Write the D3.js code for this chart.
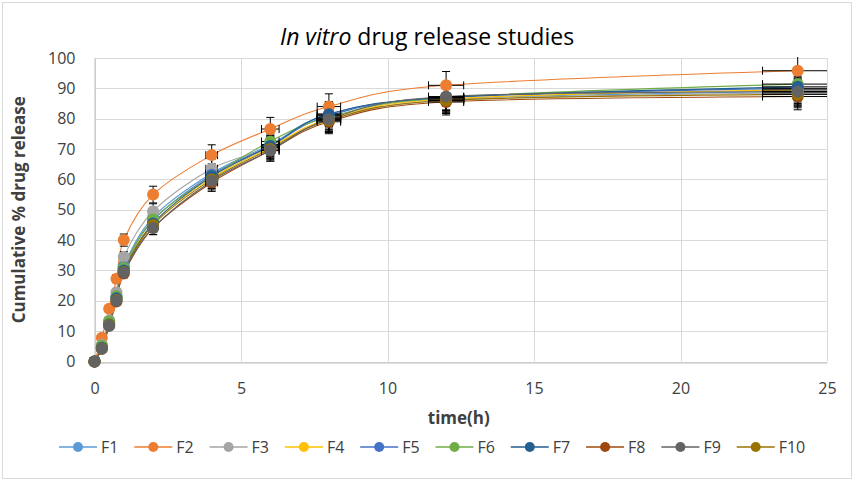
<!DOCTYPE html>
<html>
<head>
<meta charset="utf-8">
<script src="https://cdn.jsdelivr.net/npm/d3@7"></script>
<style>
	body { margin: 0; background: #fff; }
	text { font-family: "Open Sans", "Noto Sans", sans-serif; fill: #404040; }
</style>
</head>
<body>
<div id="chart"></div>
<script>

// sampling times (h)
var times = [0, 0.25, 0.5, 0.75, 1, 2, 4, 6, 8, 12, 24];

// cumulative % drug release
var F1  = [0, 5.0, 13.0, 21.5, 31.5, 47.5, 62.0, 71.5, 81.5, 86.5, 89.0];
var F2  = [0, 7.8, 17.4, 27.3, 40.0, 55.0, 68.0, 76.6, 84.0, 91.0, 95.8];
var F3  = [0, 5.5, 13.5, 22.8, 34.5, 49.5, 63.5, 70.5, 79.5, 86.0, 88.5];
var F4  = [0, 4.8, 12.5, 21.0, 30.5, 45.5, 60.5, 70.5, 80.0, 86.5, 89.5];
var F5  = [0, 4.6, 12.5, 21.0, 31.0, 46.5, 61.5, 71.0, 81.0, 87.0, 90.0];
var F6  = [0, 5.2, 13.2, 21.5, 30.8, 46.8, 61.0, 72.5, 80.5, 87.0, 91.4];
var F7  = [0, 4.5, 12.2, 20.8, 30.0, 45.5, 61.0, 71.0, 81.5, 87.0, 90.5];
var F8  = [0, 4.2, 11.8, 19.8, 29.0, 44.0, 59.0, 69.5, 79.0, 85.5, 87.3];
var F9  = [0, 4.2, 11.8, 20.0, 29.3, 44.0, 59.5, 69.5, 79.8, 87.3, 88.9];
var F10 = [0, 4.3, 12.0, 20.3, 29.5, 45.0, 60.0, 70.0, 79.5, 86.0, 88.0];

var seriesNames = ["F1", "F2", "F3", "F4", "F5", "F6", "F7", "F8", "F9", "F10"];
var seriesValues = [F1, F2, F3, F4, F5, F6, F7, F8, F9, F10];
var seriesColors = ["#5B9BD5", "#ED7D31", "#A5A5A5", "#FFC000", "#4472C4",
	"#70AD47", "#255E91", "#9E480E", "#636363", "#997300"];

var xTicks = [0, 5, 10, 15, 20, 25];
var yTicks = [0, 10, 20, 30, 40, 50, 60, 70, 80, 90, 100];
var errPct = 0.05; // 5% error bars on both axes

var width = 854, height = 481;
var plot = {left: 94.5, right: 827, top: 58, bottom: 361.5};

var x = d3.scaleLinear().domain([0, 25]).range([plot.left, plot.right]);
var y = d3.scaleLinear().domain([0, 100]).range([plot.bottom, plot.top]);

var data = seriesNames.map((name, i) => ({
	name: name,
	color: seriesColors[i],
	points: times.map((t, j) => ({t: t, v: seriesValues[i][j]}))
}));

// F9 ends up on top of the cluster in the picture
var drawOrder = data.filter(d => d.name != "F9").concat(data.filter(d => d.name == "F9"));

var svg = d3.select("#chart").append("svg")
	.attr("width", width)
	.attr("height", height);

svg.append("rect")
	.attr("x", 2.5).attr("y", 2.5)
	.attr("width", width - 5).attr("height", height - 5)
	.attr("fill", "#fff")
	.attr("stroke", "#D9D9D9");

svg.append("clipPath").attr("id", "plotClip")
	.append("rect")
	.attr("x", plot.left).attr("y", plot.top - 1)
	.attr("width", plot.right - plot.left).attr("height", plot.bottom - plot.top + 1);

// grid
var gGrid = svg.append("g").attr("stroke", "#D9D9D9").attr("stroke-width", 1);
gGrid.selectAll(".gy")
	.data(yTicks)
	.join("line")
		.attr("class", "gy")
		.attr("x1", plot.left).attr("x2", plot.right)
		.attr("y1", d => Math.round(y(d)) + 0.5)
		.attr("y2", d => Math.round(y(d)) + 0.5);
gGrid.selectAll(".gx")
	.data(xTicks)
	.join("line")
		.attr("class", "gx")
		.attr("y1", plot.top).attr("y2", plot.bottom)
		.attr("x1", d => Math.round(x(d)) + 0.5)
		.attr("x2", d => Math.round(x(d)) + 0.5);

// axes
var yAxis = svg.append("g")
	.attr("transform", `translate(${plot.left},0)`)
	.call(d3.axisLeft(y).tickValues(yTicks).tickSize(0).tickPadding(19));
yAxis.select(".domain").attr("stroke", "#BFBFBF");
yAxis.selectAll("text").style("font-size", "16px").attr("fill", "#404040");

var xAxis = svg.append("g")
	.attr("transform", `translate(0,${Math.round(y(0)) + 0.5})`)
	.call(d3.axisBottom(x).tickValues(xTicks).tickSize(0).tickPadding(20));
xAxis.select(".domain").attr("stroke", "#BFBFBF");
xAxis.selectAll("text").style("font-size", "16px").attr("fill", "#404040");

// series
var line = d3.line()
	.x(d => x(d.t))
	.y(d => y(d.v))
	.curve(d3.curveCatmullRom.alpha(0));

var gSeries = svg.append("g").attr("clip-path", "url(#plotClip)");

gSeries.selectAll(".line")
	.data(drawOrder)
	.join("path")
		.attr("class", "line")
		.attr("fill", "none")
		.attr("stroke", d => d.color)
		.attr("stroke-width", 1.1)
		.attr("d", d => line(d.points));

var cap = 4;
var gErr = gSeries.append("g").attr("stroke", "#000").attr("stroke-width", 1);
drawOrder.forEach(s => {
	var pts = s.points.filter(p => p.t > 0);
	var g = gErr.append("g");
	pts.forEach(p => {
		var cx = x(p.t), cy = y(p.v);
		var x0 = x(p.t * (1 - errPct)), x1 = x(p.t * (1 + errPct));
		var y0 = y(p.v * (1 - errPct)), y1 = y(p.v * (1 + errPct));
		g.append("line").attr("x1", cx).attr("x2", cx).attr("y1", y0).attr("y2", y1);
		g.append("line").attr("x1", cx - cap).attr("x2", cx + cap).attr("y1", y0).attr("y2", y0);
		g.append("line").attr("x1", cx - cap).attr("x2", cx + cap).attr("y1", y1).attr("y2", y1);
		g.append("line").attr("x1", x0).attr("x2", x1).attr("y1", cy).attr("y2", cy);
		g.append("line").attr("x1", x0).attr("x2", x0).attr("y1", cy - cap).attr("y2", cy + cap);
		g.append("line").attr("x1", x1).attr("x2", x1).attr("y1", cy - cap).attr("y2", cy + cap);
	});
});

var gDots = svg.append("g");
drawOrder.forEach(s => {
	gDots.append("g")
		.attr("fill", s.color)
		.selectAll("circle")
		.data(s.points)
		.join("circle")
			.attr("cx", d => x(d.t))
			.attr("cy", d => y(d.v))
			.attr("r", 6);
});

// titles
var title = svg.append("text")
	.attr("x", 427).attr("y", 45)
	.attr("text-anchor", "middle")
	.style("font-size", "23px")
	.attr("fill", "#000");
title.append("tspan").style("font-style", "italic").text("In vitro");
title.append("tspan").text(" drug release studies");
title.selectAll("tspan").attr("fill", "#000");

svg.append("text")
	.attr("transform", `translate(25,${(plot.top + plot.bottom) / 2}) rotate(-90)`)
	.attr("text-anchor", "middle")
	.style("font-size", "17px")
	.style("font-weight", "bold")
	.attr("fill", "#000")
	.text("Cumulative % drug release");

svg.append("text")
	.attr("x", (plot.left + plot.right) / 2 - 2).attr("y", 424)
	.attr("text-anchor", "middle")
	.style("font-size", "17px")
	.style("font-weight", "bold")
	.attr("fill", "#000")
	.text("time(h)");

// legend
var legend = svg.append("g").attr("transform", "translate(59,447)");
var item = legend.selectAll("g")
	.data(data)
	.join("g")
		.attr("transform", (d, i) => `translate(${i * 75.3},0)`);
item.append("line")
	.attr("x1", 0).attr("x2", 38)
	.attr("stroke", d => d.color)
	.attr("stroke-width", 1.5);
item.append("circle")
	.attr("cx", 19).attr("r", 5)
	.attr("fill", d => d.color);
item.append("text")
	.attr("x", 42).attr("y", 6)
	.style("font-size", "16px")
	.attr("fill", "#404040")
	.text(d => d.name);

</script>
</body>
</html>
